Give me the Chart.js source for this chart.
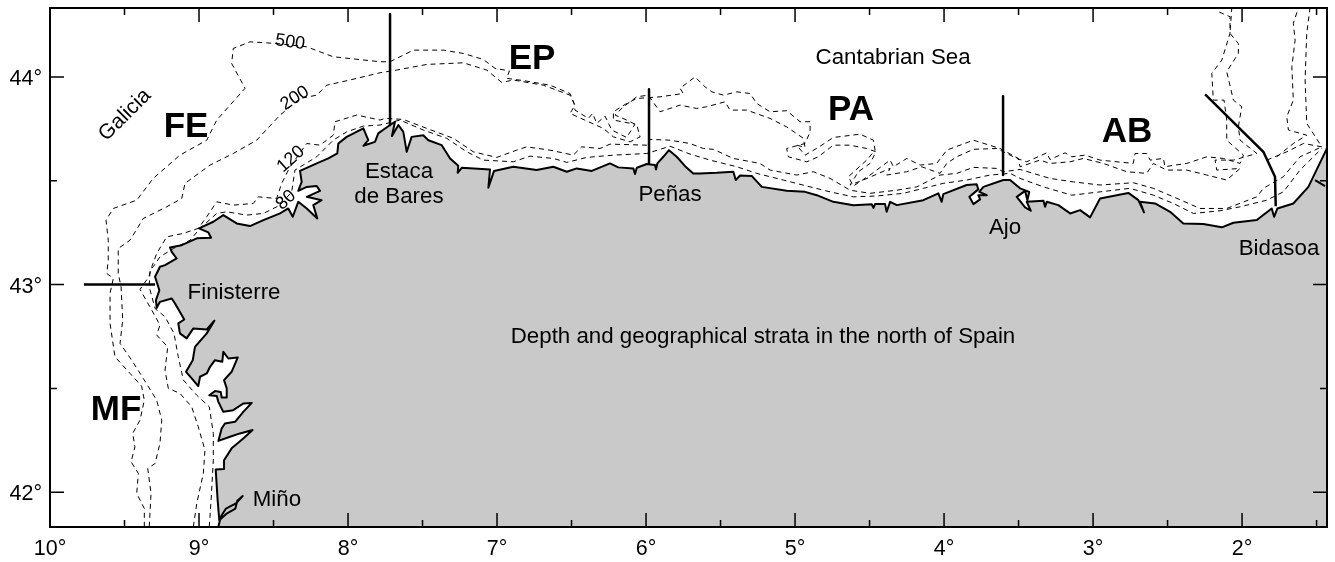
<!DOCTYPE html>
<html>
<head>
<meta charset="utf-8">
<style>
  html, body { margin: 0; padding: 0; background: #fff; }
  #wrap { width: 1335px; height: 562px; }
</style>
<script src="https://cdn.jsdelivr.net/npm/chart.js@4"></script>
</head>
<body>
<div id="wrap"><canvas id="map" width="1335" height="562"></canvas></div>
<script>
// Axis ranges and ticks (degrees west / north)
const lonMin = 1.43, lonMax = 10, latMin = 41.832, latMax = 44.333;
const lonTicks = [10, 9, 8, 7, 6, 5, 4, 3, 2];
const lonMinorTicks = [9.5, 8.5, 7.5, 6.5, 5.5, 4.5, 3.5, 2.5, 1.5];
const latTicks = [44, 43, 42];
const latMinorTicks = [43.5, 42.5];

// Coastline, from the Miño northwards and then east to the Bidasoa
const coastLon = [8.870,8.854,8.819,8.752,8.707,8.743,8.756,8.814,8.864,8.875,8.888,8.832,8.832,8.781,8.703,8.640,8.725,8.792,8.870,8.848,8.826,8.758,8.703,8.646,8.703,8.770,8.837,8.870,8.881,8.931,8.893,8.854,8.848,8.814,8.814,8.832,8.781,8.740,8.803,8.837,8.844,8.893,8.926,8.948,8.993,9.005,9.049,9.087,9.042,9.027,8.948,8.897,8.948,9.038,9.083,9.128,9.139,9.099,9.161,9.183,9.262,9.284,9.289,9.266,9.295,9.262,9.228,9.150,9.183,9.195,9.116,9.015,8.919,8.938,9.000,8.904,8.837,8.747,8.658,8.568,8.456,8.401,8.371,8.334,8.277,8.206,8.233,8.177,8.277,8.188,8.210,8.277,8.334,8.311,8.322,8.210,8.132,8.072,8.065,8.009,7.897,7.864,7.897,7.819,7.797,7.718,7.685,7.705,7.662,7.629,7.606,7.573,7.495,7.461,7.371,7.315,7.260,7.264,7.237,7.047,7.058,7.020,6.891,6.734,6.622,6.532,6.465,6.364,6.242,6.186,6.085,6.074,6.062,5.995,5.940,5.933,5.924,5.884,5.846,5.794,5.738,5.683,5.638,5.526,5.414,5.398,5.369,5.291,5.223,5.056,4.933,4.854,4.743,4.609,4.485,4.474,4.463,4.396,4.385,4.362,4.317,4.139,4.038,4.016,4.005,3.848,3.781,3.770,3.830,3.803,3.758,3.770,3.713,3.763,3.736,3.602,3.557,3.490,3.428,3.441,3.456,3.512,3.456,3.418,3.445,3.333,3.322,3.311,3.233,3.154,3.087,3.020,2.953,2.763,2.696,2.658,2.685,2.584,2.483,2.394,2.260,2.136,2.058,1.901,1.801,1.785,1.763,1.656,1.555,1.436,1.430];
const coastLat = [41.833,41.881,41.921,41.946,41.981,41.958,41.921,41.897,41.865,41.961,42.109,42.112,42.154,42.211,42.259,42.299,42.283,42.267,42.247,42.307,42.331,42.339,42.387,42.430,42.427,42.395,42.387,42.435,42.463,42.467,42.487,42.483,42.456,42.456,42.500,42.540,42.580,42.649,42.644,42.676,42.628,42.636,42.604,42.572,42.556,42.511,42.548,42.580,42.636,42.700,42.765,42.826,42.784,42.789,42.741,42.765,42.813,42.832,42.909,42.933,42.917,42.888,42.925,42.973,43.038,43.086,43.094,43.126,43.158,43.179,43.190,43.223,43.226,43.252,43.271,43.303,43.335,43.295,43.282,43.311,43.343,43.367,43.327,43.399,43.367,43.319,43.383,43.407,43.423,43.452,43.475,43.471,43.452,43.495,43.548,43.584,43.608,43.632,43.680,43.712,43.753,43.696,43.669,43.688,43.729,43.769,43.785,43.716,43.769,43.736,43.640,43.712,43.720,43.696,43.672,43.608,43.573,43.539,43.563,43.555,43.467,43.548,43.568,43.552,43.568,43.544,43.560,43.548,43.584,43.565,43.560,43.533,43.563,43.581,43.576,43.555,43.584,43.616,43.648,43.616,43.571,43.536,43.536,43.539,43.544,43.504,43.526,43.524,43.471,43.452,43.447,43.431,43.399,43.383,43.387,43.370,43.388,43.388,43.351,43.399,43.383,43.407,43.440,43.399,43.436,43.480,43.484,43.459,43.423,43.388,43.411,43.431,43.431,43.447,43.471,43.504,43.504,43.464,43.447,43.407,43.452,43.423,43.372,43.356,43.399,43.404,43.375,43.399,43.383,43.343,43.359,43.324,43.415,43.442,43.407,43.348,43.399,43.391,43.351,43.295,43.292,43.276,43.298,43.311,43.367,43.327,43.367,43.391,43.471,43.648,43.660];
const riverLon = [1.510,1.443];
const riverLat = [43.504,43.475];

// Depth contours
const depth80Lon = [8.931,8.919,8.904,8.904,8.931,9.015,9.105,9.139,9.168,9.228,9.295,9.334,9.329,9.307,9.262,9.172,9.060,8.993,8.881,8.814,8.680,8.568,8.456,8.378,8.356,8.210,8.099,8.009,7.897,7.785,7.651,7.495,7.338,7.203,7.092,6.891,6.779,6.622,6.532,6.398,6.219,5.995,5.839,5.705,5.570,5.391,5.257,5.079,4.921,4.765,4.609,4.452,4.273,4.139,4.005,3.848,3.691,3.557,3.490,3.333,3.143,2.953,2.752,2.595,2.461,2.327,2.148,2.013,1.834,1.723,1.611,1.465];
const depth80Lat = [41.833,41.961,42.154,42.283,42.411,42.467,42.540,42.652,42.765,42.845,42.885,42.989,43.070,43.086,43.134,43.174,43.214,43.271,43.343,43.351,43.335,43.343,43.383,43.447,43.552,43.616,43.696,43.736,43.764,43.769,43.793,43.745,43.705,43.640,43.600,43.592,43.619,43.608,43.589,43.613,43.624,43.632,43.667,43.629,43.600,43.568,43.536,43.504,43.475,43.447,43.423,43.427,43.440,43.464,43.488,43.504,43.528,43.536,43.512,43.471,43.431,43.447,43.464,43.431,43.391,43.343,43.356,43.375,43.407,43.447,43.552,43.656];
const depth120Lon = [9.038,9.015,8.971,8.960,9.005,9.049,9.128,9.206,9.228,9.210,9.284,9.262,9.317,9.396,9.336,9.317,9.284,9.217,9.105,9.005,8.948,8.881,8.770,8.636,8.602,8.479,8.445,8.389,8.277,8.188,8.099,8.087,7.942,7.785,7.752,7.629,7.472,7.293,7.159,7.002,6.868,6.801,6.644,6.488,6.432,6.309,6.242,5.995,5.978,5.839,5.705,5.615,5.548,5.414,5.235,5.168,4.989,4.877,4.765,4.631,4.497,4.317,4.183,4.027,3.915,3.803,3.646,3.602,3.490,3.289,3.132,2.953,2.730,2.595,2.461,2.282,2.103,1.901,1.857,1.723,1.611,1.465];
const depth120Lat = [41.833,41.946,42.090,42.202,42.315,42.411,42.476,42.500,42.588,42.700,42.757,42.805,42.877,42.977,43.038,43.086,43.150,43.230,43.247,43.271,43.327,43.399,43.383,43.391,43.423,43.415,43.488,43.568,43.680,43.672,43.720,43.785,43.817,43.793,43.801,43.796,43.753,43.705,43.640,43.613,43.648,43.664,43.648,43.624,43.664,43.656,43.677,43.672,43.700,43.696,43.680,43.656,43.652,43.608,43.584,43.552,43.528,43.544,43.512,43.455,43.440,43.455,43.471,43.528,43.536,43.565,43.560,43.544,43.555,43.512,43.495,43.480,43.491,43.464,43.423,43.367,43.367,43.423,43.464,43.520,43.616,43.664];
const depth200Lon = [9.334,9.322,9.344,9.295,9.262,9.250,9.284,9.374,9.452,9.530,9.512,9.523,9.542,9.542,9.463,9.374,9.217,9.116,9.094,8.926,8.770,8.613,8.456,8.322,8.210,8.143,7.987,7.785,7.673,7.472,7.226,7.069,6.968,6.891,6.689,6.510,6.477,6.510,6.387,6.287,6.219,6.107,6.040,6.062,6.130,6.208,6.152,6.062,5.985,5.906,5.772,5.660,5.593,5.470,5.436,5.324,5.168,5.056,4.944,4.933,4.989,4.933,4.844,4.743,4.564,4.474,4.463,4.519,4.642,4.609,4.497,4.362,4.340,4.250,4.161,4.049,3.982,3.803,3.624,3.501,3.490,3.356,3.289,3.154,3.065,2.931,2.774,2.640,2.595,2.506,2.371,2.237,2.103,2.013,2.170,2.181,2.058,1.901,2.013,2.025,2.002,2.058,2.103,2.025,2.025,2.081,2.069];
const depth200Lat = [41.833,41.994,42.114,42.138,42.235,42.347,42.443,42.548,42.636,42.717,42.829,42.989,43.054,43.174,43.214,43.319,43.375,43.415,43.488,43.576,43.632,43.696,43.817,43.897,43.913,43.961,43.986,44.021,44.034,44.061,44.069,44.034,43.974,43.986,43.961,43.913,43.865,43.825,43.785,43.753,43.712,43.688,43.712,43.769,43.793,43.817,43.857,43.905,43.913,43.833,43.865,43.849,43.857,43.881,43.841,43.841,43.801,43.760,43.705,43.661,43.672,43.624,43.661,43.709,43.725,43.696,43.648,43.600,43.520,43.475,43.528,43.600,43.568,43.608,43.576,43.584,43.648,43.696,43.656,43.608,43.568,43.600,43.584,43.592,43.608,43.584,43.544,43.536,43.584,43.552,43.552,43.528,43.504,43.560,43.552,43.600,43.600,43.632,43.696,43.760,43.857,43.889,44.026,44.114,44.162,44.211,44.333];
const depth500Lon = [9.367,9.367,9.418,9.407,9.456,9.430,9.445,9.396,9.367,9.385,9.463,9.564,9.597,9.597,9.575,9.619,9.609,9.609,9.624,9.575,9.418,9.307,9.128,8.948,8.881,8.691,8.781,8.770,8.658,8.479,8.277,8.099,7.785,7.718,7.562,7.360,7.226,7.092,7.013,6.917,6.935,6.812,6.644,6.510,6.483,6.477,6.387,6.358,6.331,6.275,6.230,6.130,6.074,6.219,6.219,6.130,6.062,5.906,5.750,5.772,5.671,5.604,5.559,5.481,5.391,5.302,5.257,5.168,5.056,4.966,4.899,4.899,4.933,5.056,5.045,4.921,4.844,4.743,4.631,4.519,4.456,4.497,4.575,4.631,4.542,4.362,4.385,4.250,4.150,4.027,3.982,3.915,3.803,3.646,3.512,3.445,3.311,3.289,3.188,3.143,3.054,2.953,2.730,2.718,2.640,2.617,2.528,2.517,2.450,2.371,2.237,2.125,2.013,1.991,2.103,2.103,2.121,2.193,2.203,2.136,2.081,2.081,2.159];
const depth500Lat = [41.833,41.921,41.994,42.090,42.146,42.218,42.283,42.347,42.443,42.511,42.572,42.652,42.813,42.958,43.030,43.054,43.118,43.214,43.311,43.367,43.407,43.512,43.624,43.696,43.793,43.946,44.066,44.138,44.170,44.162,44.146,44.098,44.074,44.074,44.130,44.130,44.114,44.085,44.042,44.030,43.994,43.982,43.961,43.921,43.873,43.841,43.801,43.825,43.777,43.812,43.745,43.709,43.773,43.793,43.833,43.873,43.897,43.905,43.921,43.946,44.001,43.953,43.929,43.913,43.929,43.921,43.873,43.833,43.838,43.785,43.785,43.736,43.680,43.656,43.616,43.592,43.616,43.672,43.672,43.656,43.640,43.584,43.544,43.480,43.504,43.560,43.528,43.544,43.568,43.536,43.584,43.616,43.652,43.656,43.608,43.592,43.635,43.603,43.635,43.616,43.624,43.600,43.584,43.632,43.632,43.600,43.608,43.568,43.576,43.584,43.616,43.608,43.584,43.624,43.696,43.793,43.889,43.889,44.018,44.082,44.211,44.291,44.315];
const canyon200Lon = [1.834,1.700,1.588,1.465,1.566,1.577,1.566,1.544];
const canyon200Lat = [43.600,43.640,43.680,43.664,43.777,43.986,44.211,44.333];
const canyon500Lon = [1.767,1.656,1.566,1.689,1.700,1.656,1.666,1.644,1.656,1.622];
const canyon500Lat = [43.616,43.680,43.720,43.745,43.809,43.889,44.050,44.178,44.259,44.333];

// Limits between the geographical strata
const strataFinisterreLon = [9.772,9.295];
const strataFinisterreLat = [43,43];
const strataEstacaLon = [7.718,7.718];
const strataEstacaLat = [44.304,43.769];
const strataPenasLon = [5.980,5.980];
const strataPenasLat = [43.941,43.586];
const strataAjoLon = [3.604,3.604];
const strataAjoLat = [43.908,43.528];
const strataBidasoaLon = [2.248,1.857,1.779,1.774];
const strataBidasoaLat = [43.917,43.640,43.520,43.378];

// Map texts
const stratumNames = ['FE', 'EP', 'PA', 'AB', 'MF'];
const stratumLon = [9.087, 6.765, 4.624, 2.772, 9.557];
const stratumLat = [43.769, 44.096, 43.851, 43.745, 42.405];
const placeNames = ['Cantabrian Sea', 'Estaca', 'de Bares', 'Peñas', 'Finisterre', 'Ajo', 'Bidasoa', 'Miño', 'Depth and geographical strata in the north of Spain'];
const placeLon = [4.342, 7.658, 7.658, 5.839, 8.765, 3.591, 1.752, 8.477, 5.215];
const placeLat = [44.101, 43.552, 43.431, 43.441, 42.969, 43.282, 43.181, 41.971, 42.757];
const depthNames = ['500', '200', '120', '80'];
const depthLabelLon = [8.389, 8.356, 8.383, 8.416];
const depthLabelLat = [44.178, 43.908, 43.614, 43.417];
const depthLabelAngle = [8, -33, -42, -42];

const FONT = '"Liberation Sans", Arial, sans-serif';
const TEXT_SHIFT = 2; // el baseline 'middle' queda un poco alto
const toPoints = (lon, lat) => lon.map((x, i) => ({ x, y: lat[i] }));

function dashed(lon, lat) {
  return { data: toPoints(lon, lat), showLine: true, borderColor: '#000', borderWidth: 1, borderDash: [5, 4], pointRadius: 0, fill: false, order: 2 };
}
function solid(lon, lat, width) {
  return { data: toPoints(lon, lat), showLine: true, borderColor: '#000', borderWidth: width, borderJoinStyle: 'round', pointRadius: 0, fill: false, order: 1 };
}

// Frame, inward ticks and all the texts on the map
const mapDecor = {
  id: 'mapDecor',
  afterDatasetsDraw(chart) {
    const { ctx, chartArea: a, scales: { x, y } } = chart;
    ctx.save();
    ctx.strokeStyle = '#000';
    ctx.lineWidth = 1.5;
    ctx.beginPath();
    lonTicks.concat(lonMinorTicks).forEach((v) => {
      const len = lonTicks.includes(v) ? 14 : 7;
      const px = x.getPixelForValue(v);
      ctx.moveTo(px, a.bottom); ctx.lineTo(px, a.bottom - len);
      ctx.moveTo(px, a.top); ctx.lineTo(px, a.top + len);
    });
    latTicks.concat(latMinorTicks).forEach((v) => {
      const len = latTicks.includes(v) ? 14 : 7;
      const py = y.getPixelForValue(v);
      ctx.moveTo(a.left, py); ctx.lineTo(a.left + len, py);
      ctx.moveTo(a.right, py); ctx.lineTo(a.right - len, py);
    });
    ctx.stroke();
    ctx.lineWidth = 2;
    ctx.strokeRect(a.left, a.top, a.right - a.left, a.bottom - a.top);

    ctx.fillStyle = '#000';
    ctx.textAlign = 'center';
    ctx.textBaseline = 'middle';
    ctx.font = 'bold 35px ' + FONT;
    stratumNames.forEach((t, i) => ctx.fillText(t, x.getPixelForValue(stratumLon[i]), y.getPixelForValue(stratumLat[i]) + TEXT_SHIFT));
    ctx.font = '22.3px ' + FONT;
    placeNames.forEach((t, i) => ctx.fillText(t, x.getPixelForValue(placeLon[i]), y.getPixelForValue(placeLat[i]) + TEXT_SHIFT));
    ctx.font = '18px ' + FONT;
    depthNames.forEach((t, i) => {
      ctx.save();
      ctx.translate(x.getPixelForValue(depthLabelLon[i]), y.getPixelForValue(depthLabelLat[i]) + TEXT_SHIFT);
      ctx.rotate(depthLabelAngle[i] * Math.PI / 180);
      ctx.fillText(t, 0, 0);
      ctx.restore();
    });
    ctx.save();
    ctx.font = '21px ' + FONT;
    ctx.translate(x.getPixelForValue(9.497), y.getPixelForValue(43.827) + TEXT_SHIFT);
    ctx.rotate(-45 * Math.PI / 180);
    ctx.fillText('Galicia', 0, 0);
    ctx.restore();
    ctx.restore();
  },
};

new Chart(document.getElementById('map'), {
  type: 'scatter',
  data: {
    datasets: [
      // tierra: se cierra por la esquina inferior derecha
      { data: toPoints(coastLon.concat([lonMin]), coastLat.concat([latMin])), showLine: true, borderWidth: 0, borderColor: 'transparent', backgroundColor: '#c9c9c9', pointRadius: 0, fill: 'shape', order: 3 },
      dashed(depth80Lon, depth80Lat),
      dashed(depth120Lon, depth120Lat),
      dashed(depth200Lon, depth200Lat),
      dashed(depth500Lon, depth500Lat),
      dashed(canyon200Lon, canyon200Lat),
      dashed(canyon500Lon, canyon500Lat),
      solid(coastLon, coastLat, 2),
      solid(riverLon, riverLat, 2),
      solid(strataFinisterreLon, strataFinisterreLat, 2.5),
      solid(strataEstacaLon, strataEstacaLat, 2.5),
      solid(strataPenasLon, strataPenasLat, 2.5),
      solid(strataAjoLon, strataAjoLat, 2.5),
      solid(strataBidasoaLon, strataBidasoaLat, 2.5),
    ],
  },
  options: {
    responsive: false,
    animation: false,
    layout: { padding: { top: 8, right: 8 } },
    plugins: { legend: { display: false }, tooltip: { enabled: false } },
    scales: {
      x: {
        type: 'linear', reverse: true, min: lonMin, max: lonMax,
        grid: { display: false, drawTicks: false }, border: { display: false },
        afterBuildTicks: (s) => { s.ticks = lonTicks.map((value) => ({ value })); },
        afterFit: (s) => { s.height = 35; s.paddingLeft = 0; s.paddingRight = 0; },
        ticks: { autoSkip: false, maxRotation: 0, padding: 9, color: '#000', font: { family: FONT, size: 21.5 }, callback: (v) => v + '°' },
      },
      y: {
        type: 'linear', min: latMin, max: latMax,
        grid: { display: false, drawTicks: false }, border: { display: false },
        afterBuildTicks: (s) => { s.ticks = latTicks.map((value) => ({ value })); },
        afterFit: (s) => { s.width = 50; s.paddingTop = 0; s.paddingBottom = 0; },
        ticks: { autoSkip: false, padding: 8, labelOffset: 2, color: '#000', font: { family: FONT, size: 21.5 }, callback: (v) => v + '°' },
      },
    },
  },
  plugins: [mapDecor],
});
</script>
</body>
</html>
